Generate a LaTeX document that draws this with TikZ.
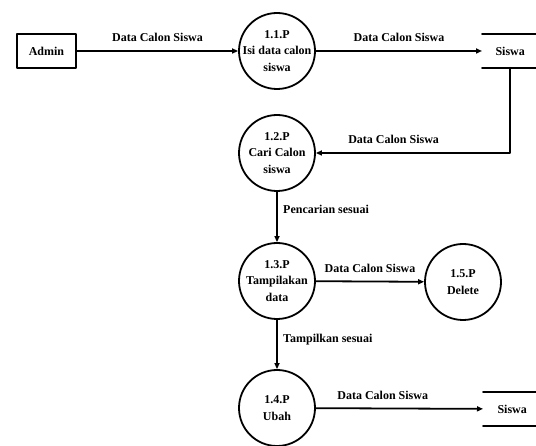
\documentclass[tikz,border=0pt]{standalone}
\usepackage{fontspec}
\setmainfont{Liberation Serif}
\usepackage{tikz}
\usetikzlibrary{arrows.meta}

\begin{document}
\begin{tikzpicture}[x=1pt,y=-1pt,line cap=round,line join=round,
  font=\fontsize{12}{16.5}\selectfont\bfseries,
  >={Triangle[length=6pt,width=5pt]},
  proses/.style={draw,circle,line width=1.8pt,minimum size=76pt,inner sep=-12pt,align=center},
  entitas/.style={draw,rectangle,line width=1.8pt,minimum width=59pt,minimum height=34pt},
  simpan/.style={anchor=west,minimum height=33pt},
  alur/.style={->,line width=1.8pt},
  ket/.style={above=5pt}]
\useasboundingbox (0,0) rectangle (536,446);
% entitas dan proses
\node[entitas] (admin) at (46.5,51) {Admin};
\node[proses] (p11) at (277,51) {1.1.P\\Isi data calon\\siswa};
\node[proses] (p12) at (277,153) {1.2.P\\Cari Calon\\siswa};
\node[proses] (p13) at (277,281) {1.3.P\\Tampilakan\\data};
\node[proses] (p14) at (277,408) {1.4.P\\Ubah};
\node[proses] (p15) at (463,282) {1.5.P\\Delete};
% data store
\node[simpan,minimum width=56pt] (siswa1) at (482,51) {Siswa};
\node[simpan,minimum width=58pt] (siswa2) at (483,409) {Siswa};
\foreach \s in {siswa1,siswa2}{
  \draw[line width=1.8pt] (\s.north west) -- (\s.north east);
  \draw[line width=1.8pt] (\s.south west) -- (\s.south east);
}
% aliran data
\draw[alur] (admin) -- (p11) node[midway,ket] {Data Calon Siswa};
\draw[alur] (p11) -- (siswa1) node[midway,ket] {Data Calon Siswa};
\draw[alur] (siswa1.south) |- (p12) node[pos=0.8,ket] {Data Calon Siswa};
\draw[alur] (p12) -- (p13) node[pos=0.35,right=2pt] {Pencarian sesuai};
\draw[alur] (p13) -- (p15) node[midway,ket] {Data Calon Siswa};
\draw[alur] (p13) -- (p14) node[pos=0.4,right=2pt] {Tampilkan sesuai};
\draw[alur] (p14) -- (siswa2) node[pos=0.4,ket] {Data Calon Siswa};
\end{tikzpicture}
\end{document}
